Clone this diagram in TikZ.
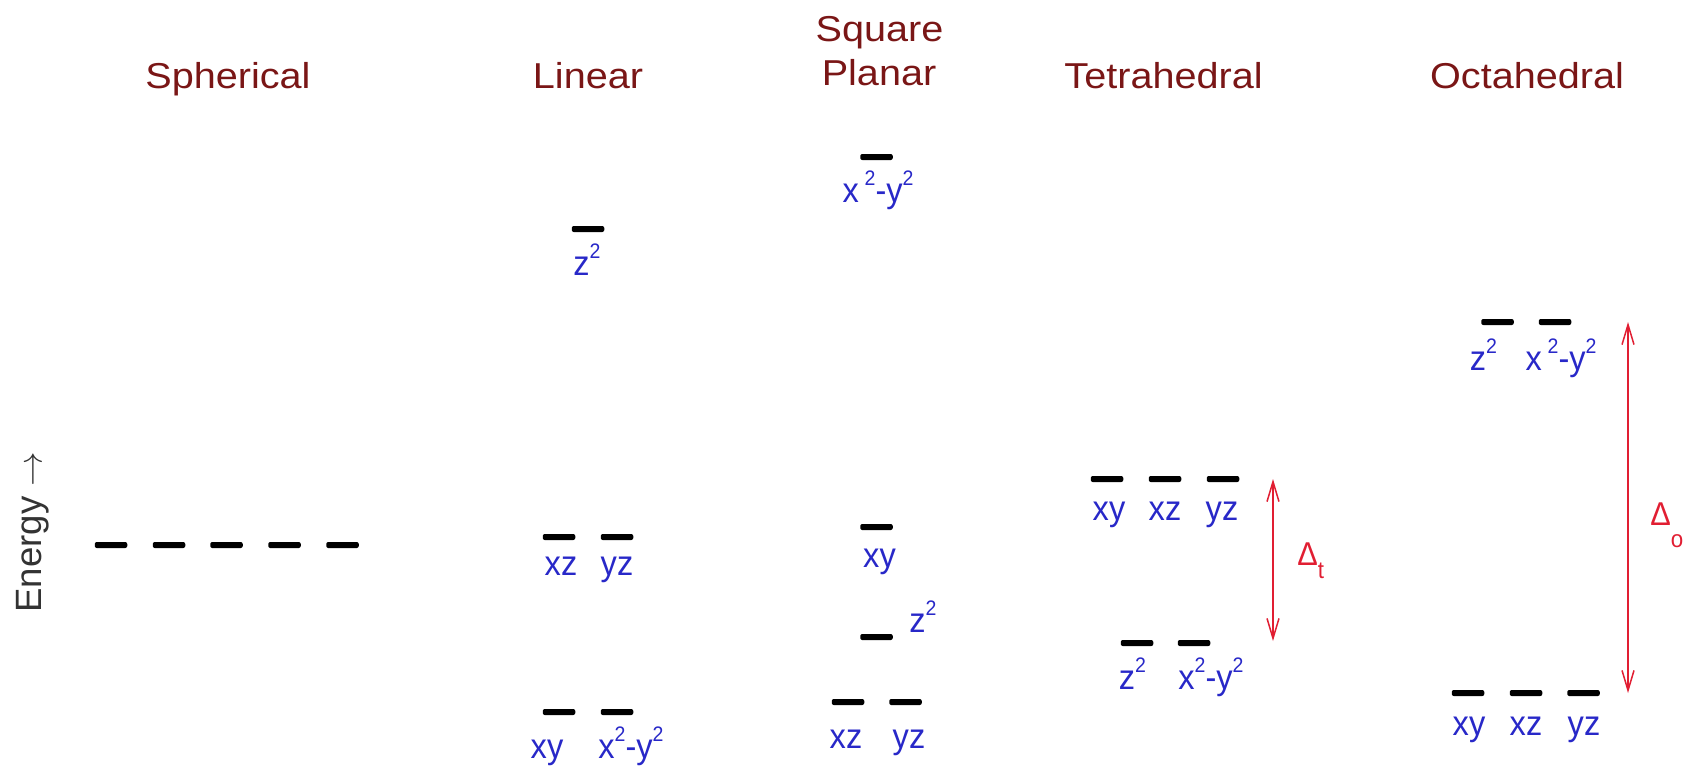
\documentclass[tikz,border=0pt]{standalone}
\usepackage{fontspec}
\setmainfont{Liberation Sans}
\newfontfamily\ttlfont[FakeStretch=1.1]{Liberation Sans}
\newfontfamily\lblfont[FakeStretch=0.93]{Liberation Sans}
\usetikzlibrary{arrows.meta}
\definecolor{ttl}{RGB}{122,22,22}
\definecolor{lbl}{RGB}{40,40,200}
\definecolor{arr}{RGB}{225,30,50}
\newcommand\supii{\raisebox{8.5pt}{\fontsize{10.5pt}{11pt}\selectfont 2}}
\begin{document}
\begin{tikzpicture}[x=0.5pt,y=-0.5pt,
  lvl/.style={fill=black, minimum width=16.25pt, minimum height=3pt, inner sep=0pt, rounded corners=1pt},
  ttlnode/.style={text=ttl, font=\ttlfont\fontsize{18pt}{20pt}\selectfont, anchor=base, inner sep=0pt},
  lblnode/.style={text=lbl, font=\lblfont\fontsize{17.5pt}{19pt}\selectfont, anchor=base, inner sep=0pt},
  gap/.style={draw=arr, line width=0.75pt, {Straight Barb[length=10pt,width=6pt]}-{Straight Barb[length=10pt,width=6pt]}},
  gaplbl/.style={text=arr, font=\lblfont\fontsize{16.5pt}{18pt}\selectfont, anchor=base west, inner sep=0pt}]
\useasboundingbox (0,0) rectangle (1691,766);

% titles
\node[ttlnode] (t-sph) at (228,88) {Spherical};
\node[ttlnode] (t-lin) at (588,88) {Linear};
\node[ttlnode] (t-sq1) at (879.5,41) {Square};
\node[ttlnode] (t-sq2) at (879,85) {Planar};
\node[ttlnode] (t-tet) at (1163.5,88) {Tetrahedral};
\node[ttlnode] (t-oct) at (1527,88) {Octahedral};

% energy axis label
\node[rotate=90, anchor=base west, inner sep=0pt, text=black!80, font=\fontsize{18.3pt}{20pt}\selectfont] (energy) at (41.7,613) {Energy $\rightarrow$};

% spherical
\node[lvl] (s1) at (111,545) {};
\node[lvl] (s2) at (169,545) {};
\node[lvl] (s3) at (226.5,545) {};
\node[lvl] (s4) at (284.5,545) {};
\node[lvl] (s5) at (342.5,545) {};

% linear
\node[lvl] (l-z2) at (588,229) {};
\node[lblnode] (l-z2t) at (587,275) {z\supii};
\node[lvl] (l-xz) at (559,537) {};
\node[lvl] (l-yz) at (617,537) {};
\node[lblnode] (l-xzt) at (561,575) {xz};
\node[lblnode] (l-yzt) at (617,575) {yz};
\node[lvl] (l-xy) at (559,712) {};
\node[lvl] (l-x2) at (617,712) {};
\node[lblnode] (l-xyt) at (547,758) {xy};
\node[lblnode] (l-x2t) at (631,758) {x\supii-y\supii};

% square planar
\node[lvl] (p-x2) at (876.5,157) {};
\node[lblnode] (p-x2t) at (878,202) {x\,\supii-y\supii};
\node[lvl] (p-xy) at (876.5,527) {};
\node[lblnode] (p-xyt) at (879.5,567) {xy};
\node[lvl] (p-z2) at (876.5,637) {};
\node[lblnode] (p-z2t) at (923,632) {z\supii};
\node[lvl] (p-xz) at (848,702) {};
\node[lvl] (p-yz) at (905.5,702) {};
\node[lblnode] (p-xzt) at (846,748) {xz};
\node[lblnode] (p-yzt) at (909,748) {yz};

% tetrahedral
\node[lvl] (t-xy) at (1107,479) {};
\node[lvl] (t-xz) at (1165,479) {};
\node[lvl] (t-yz) at (1223,479) {};
\node[lblnode] (t-xyt) at (1109,520) {xy};
\node[lblnode] (t-xzt) at (1165,520) {xz};
\node[lblnode] (t-yzt) at (1222,520) {yz};
\node[lvl] (t-z2) at (1137,643) {};
\node[lvl] (t-x2) at (1194,643) {};
\node[lblnode] (t-z2t) at (1132.5,689) {z\supii};
\node[lblnode] (t-x2t) at (1211,689) {x\supii-y\supii};
\coordinate (dt-top) at (1273,479);
\coordinate (dt-bot) at (1273,641);
\draw[gap] (dt-top) -- (dt-bot);
\node[gaplbl] (dt) at (1297,565) {Δ\raisebox{-6.5pt}{\fontsize{12pt}{12pt}\selectfont t}};

% octahedral
\node[lvl] (o-z2) at (1497.5,322) {};
\node[lvl] (o-x2) at (1555,322) {};
\node[lblnode] (o-z2t) at (1483.5,370) {z\supii};
\node[lblnode] (o-x2t) at (1561,370) {x\,\supii-y\supii};
\node[lvl] (o-xy) at (1468,693) {};
\node[lvl] (o-xz) at (1526,693) {};
\node[lvl] (o-yz) at (1583.5,693) {};
\node[lblnode] (o-xyt) at (1469,735) {xy};
\node[lblnode] (o-xzt) at (1526,735) {xz};
\node[lblnode] (o-yzt) at (1584,735) {yz};
\coordinate (do-top) at (1628,322);
\coordinate (do-bot) at (1628,693);
\draw[gap] (do-top) -- (do-bot);
\node[gaplbl] (do) at (1650,525) {Δ\raisebox{-11pt}{\fontsize{12pt}{12pt}\selectfont o}};
\end{tikzpicture}
\end{document}
